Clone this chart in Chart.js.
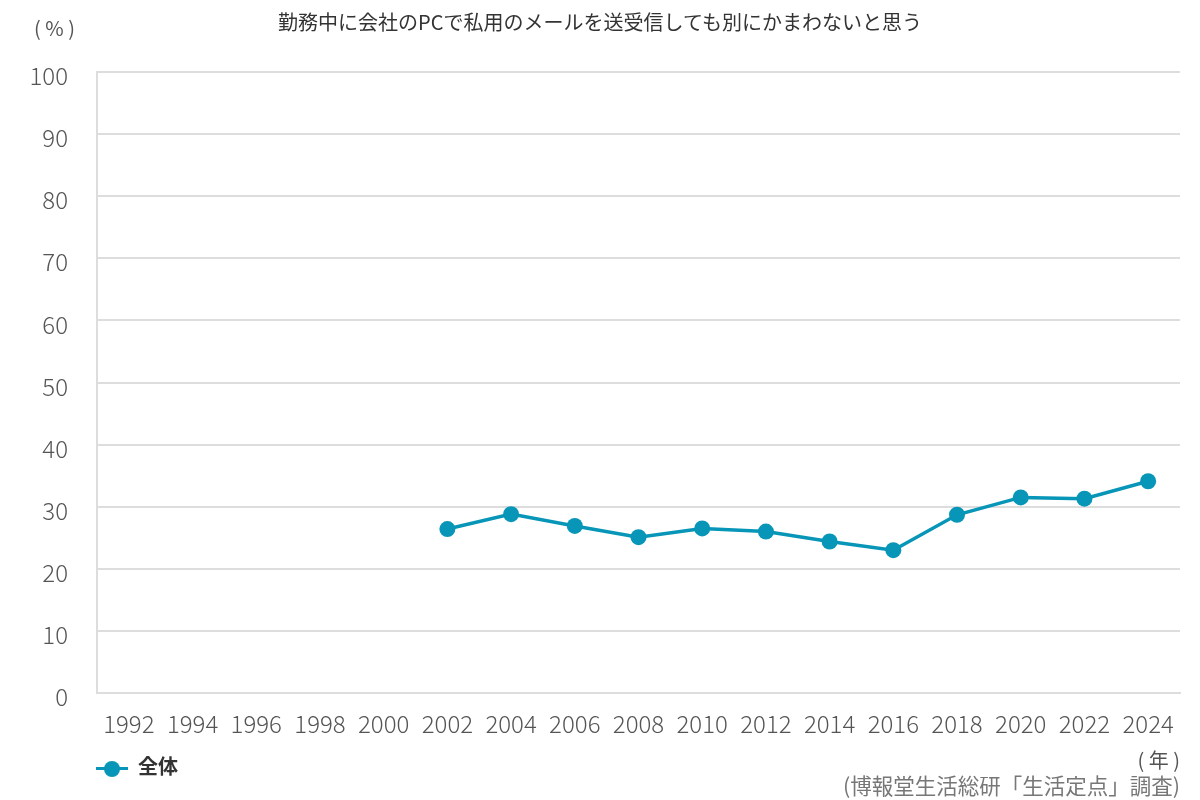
<!DOCTYPE html>
<html>
<head>
<meta charset="utf-8">
<script src="https://cdn.jsdelivr.net/npm/chart.js@4"></script>
<style>
  html, body { margin: 0; padding: 0; background: #fff; }
  body { width: 1200px; height: 800px; position: relative; overflow: hidden;
         font-family: "Noto Sans CJK JP", "Noto Sans", sans-serif; }
  #wrap { position: absolute; left: 0; top: 0; width: 1200px; height: 800px; }
  .txt { position: absolute; white-space: nowrap; line-height: 1; }
  #title { left: 0; width: 1200px; text-align: center; top: 12px; font-size: 20px; color: #333; }
  #unitY { left: 34px; top: 18px; font-size: 20px; color: #555; }
  #unitX { right: 20px; top: 750px; font-size: 20px; color: #555; }
  #source { right: 20px; top: 774px; font-size: 21.5px; color: #777; }
  #legend { left: 96px; top: 756px; font-size: 20px; font-weight: bold; color: #333; }
  #legend .mark { display: inline-block; position: relative; width: 32px; height: 20px; vertical-align: middle; margin-right: 10px; }
  #legend .mark .ln { position: absolute; left: 0; top: 8px; width: 32px; height: 3px; background: #0795b8; }
  #legend .mark .dot { position: absolute; left: 8px; top: 2px; width: 16px; height: 16px; border-radius: 50%; background: #0795b8; }
</style>
</head>
<body>
<div id="wrap"><canvas id="chart" width="1200" height="800"></canvas></div>
<div class="txt" id="title">勤務中に会社のPCで私用のメールを送受信しても別にかまわないと思う</div>
<div class="txt" id="unitY">( % )</div>
<div class="txt" id="legend"><span class="mark"><span class="ln"></span><span class="dot"></span></span>全体</div>
<div class="txt" id="unitX">( 年 )</div>
<div class="txt" id="source">(博報堂生活総研「生活定点」調査)</div>
<script>
// survey years and share answering "yes" (%), no data before 2002
const years = ['1992', '1994', '1996', '1998', '2000', '2002', '2004', '2006', '2008',
               '2010', '2012', '2014', '2016', '2018', '2020', '2022', '2024'];
const zentai = [null, null, null, null, null, 26.4, 28.8, 26.9, 25.1,
                26.5, 26.0, 24.4, 23.0, 28.7, 31.5, 31.3, 34.1];
const seriesName = '全体';
const yTicks = [0, 10, 20, 30, 40, 50, 60, 70, 80, 90, 100];

const lineColor = '#0795b8';
const gridColor = '#dddddd';
const tickFont = { family: '"Noto Sans CJK JP", "Noto Sans", sans-serif', size: 24, weight: 300 };

const ctx = document.getElementById('chart').getContext('2d');
new Chart(ctx, {
    type: 'line',
    data: {
        labels: years,
        datasets: [{
            label: seriesName,
            data: zentai,
            borderColor: lineColor,
            backgroundColor: lineColor,
            borderWidth: 3.5,
            pointRadius: 8,
            pointHoverRadius: 8,
            pointBorderWidth: 0,
            fill: false,
            tension: 0
        }]
    },
    options: {
        responsive: false,
        animation: false,
        layout: { padding: { top: 72, right: 20, left: 0, bottom: 0 } },
        plugins: {
            legend: { display: false },
            tooltip: { enabled: false }
        },
        scales: {
            x: {
                offset: true,
                grid: { display: false, drawTicks: false },
                border: { color: gridColor, width: 2 },
                ticks: {
                    color: '#555',
                    padding: 16,
                    maxRotation: 0,
                    autoSkip: false,
                    font: tickFont
                },
                afterFit: function(scale) { scale.height = 107; }
            },
            y: {
                min: 0,
                max: 100,
                afterBuildTicks: function(scale) {
                    scale.ticks = yTicks.map(v => ({ value: v }));
                },
                grid: { color: gridColor, lineWidth: 2, drawTicks: false },
                border: { color: gridColor, width: 2 },
                ticks: {
                    color: '#555',
                    padding: 29,
                    labelOffset: 4,
                    font: tickFont
                },
                afterFit: function(scale) { scale.width = 97; }
            }
        }
    }
});
</script>
</body>
</html>
